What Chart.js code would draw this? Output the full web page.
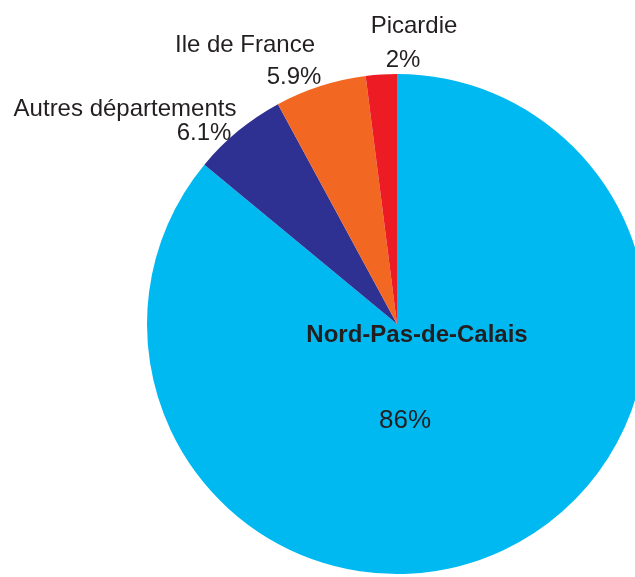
<!DOCTYPE html>
<html>
<head>
<meta charset="utf-8">
<script src="https://cdn.jsdelivr.net/npm/chart.js@4/dist/chart.umd.min.js"></script>
<style>
  html, body { margin: 0; padding: 0; overflow: hidden; background: #ffffff; width: 635px; height: 577px; }
  #c { position: absolute; left: 0; top: 0; }
</style>
</head>
<body>
<canvas id="c" width="700" height="620"></canvas>
<script>
// ---- data ----
const categories = ["Nord-Pas-de-Calais", "Autres départements", "Ile de France", "Picardie"];
const values = [86, 6.1, 5.9, 2];
const colors = ["#00B9F1", "#2E3192", "#F26722", "#ED1C24"];

// ---- label layout (offsets from pie centre, px) ----
const labelLayout = [
  { name: [20, 18],   value: [8, 104],   nameFont: "bold 24px 'Liberation Sans', Arial, sans-serif", valueFont: "26px 'Liberation Sans', Arial, sans-serif" },
  { name: [-272, -208], value: [-193, -184], nameFont: "24px 'Liberation Sans', Arial, sans-serif", valueFont: "24px 'Liberation Sans', Arial, sans-serif" },
  { name: [-152, -272], value: [-103, -240], nameFont: "24px 'Liberation Sans', Arial, sans-serif", valueFont: "24px 'Liberation Sans', Arial, sans-serif" },
  { name: [17, -291],  value: [6, -257],  nameFont: "24px 'Liberation Sans', Arial, sans-serif", valueFont: "24px 'Liberation Sans', Arial, sans-serif" }
];

const labelPlugin = {
  id: 'sliceLabels',
  afterDatasetsDraw(chart) {
    const ctx = chart.ctx;
    const meta = chart.getDatasetMeta(0);
    ctx.save();
    ctx.fillStyle = '#231F20';
    ctx.textAlign = 'center';
    ctx.textBaseline = 'alphabetic';
    meta.data.forEach((arc, i) => {
      const L = labelLayout[i];
      const cx = arc.x, cy = arc.y;
      ctx.font = L.nameFont;
      ctx.fillText(chart.data.labels[i], cx + L.name[0], cy + L.name[1]);
      ctx.font = L.valueFont;
      ctx.fillText(String(chart.data.datasets[0].data[i]) + '%', cx + L.value[0], cy + L.value[1]);
    });
    ctx.restore();
  }
};

new Chart(document.getElementById('c'), {
  type: 'pie',
  data: {
    labels: categories,
    datasets: [{
      data: values,
      backgroundColor: colors,
      borderWidth: 0
    }]
  },
  options: {
    responsive: false,
    animation: false,
    layout: { padding: { left: 147, top: 74, right: 53, bottom: 46 } },
    plugins: {
      legend: { display: false },
      tooltip: { enabled: false }
    }
  },
  plugins: [labelPlugin]
});
</script>
</body>
</html>
